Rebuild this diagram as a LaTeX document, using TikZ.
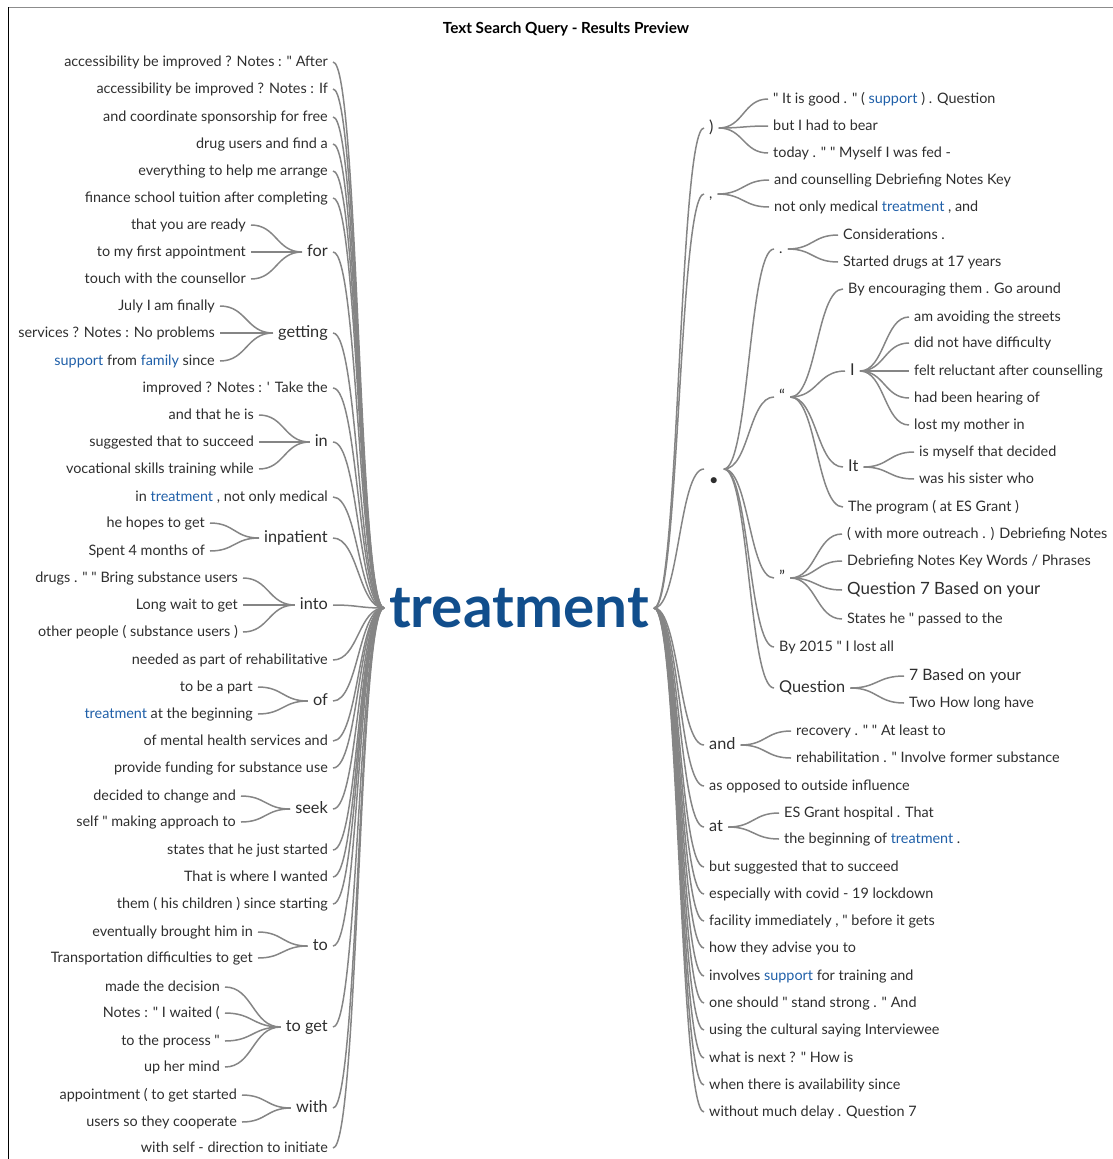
\documentclass[tikz,border=0pt]{standalone}
\usepackage{fontspec}
\setmainfont{Lato}[Ligatures=TeXOff]
\usepackage{xcolor}
\usepackage{tikz}
\usetikzlibrary{calc}
\definecolor{wtext}{HTML}{2E2E2E}
\definecolor{wblue}{HTML}{1F5FA8}
\definecolor{wroot}{HTML}{114E8C}
\definecolor{wline}{HTML}{858585}
\newcommand{\kw}[1]{\textcolor{wblue}{#1}}
\newcommand{\wlink}[2]{\draw[link] let \p1=(#1), \p2=(#2) in (\p1) .. controls ({(\x1+\x2)/2},\y1) and ({(\x1+\x2)/2},\y2) .. (\p2);}
\tikzset{
  leaf/.style={font=\fontsize{14.4}{17}\selectfont, text=wtext, inner xsep=5pt, inner ysep=0pt, text height=11.2pt, text depth=2.6pt},
  hub/.style={font=\fontsize{16.3}{19}\selectfont, text=wtext, inner xsep=5pt, inner ysep=0pt, text height=12.4pt, text depth=3pt},
  mid/.style={hub, font=\fontsize{15.7}{18}\selectfont},
  big/.style={hub, font=\fontsize{16.9}{20}\selectfont},
  link/.style={draw=wline, line width=1.5pt},
}
\begin{document}
\begin{tikzpicture}[x=1pt, y=-1pt]
\useasboundingbox (0,0) rectangle (1113,1159);
\draw[black!45, line width=0.8pt] (8,7) -- (1113,7);
\draw[black, line width=1pt] (8,7) -- (8,1159);
\node[font=\fontsize{15.3}{18}\selectfont\bfseries, text=black] (title) at (566,29) {Text Search Query - Results Preview};

% root word
\node[font=\fontsize{58.5}{62}\selectfont\bfseries, text=wroot, inner xsep=5pt, inner ysep=0pt] (root) at (519,608) {treatment};

% left side, right aligned
\node[leaf, anchor=east] (la) at (333,62) {accessibility be improved ? Notes : " After};
\node[leaf, anchor=east] (lb) at (333,89) {accessibility be improved ? Notes : If};
\node[leaf, anchor=east] (lc) at (333,117) {and coordinate sponsorship for free};
\node[leaf, anchor=east] (ld) at (333,144) {drug users and find a};
\node[leaf, anchor=east] (le) at (333,171) {everything to help me arrange};
\node[leaf, anchor=east] (lf) at (333,198) {finance school tuition after completing};
\node[hub, anchor=east] (hfor) at (333,252) {for};
\node[leaf, anchor=east] (for1) at (251,225) {that you are ready};
\node[leaf, anchor=east] (for2) at (251,252) {to my first appointment};
\node[leaf, anchor=east] (for3) at (251,279) {touch with the counsellor};
\node[hub, anchor=east] (hgetting) at (333,333) {getting};
\node[leaf, anchor=east] (get1) at (220,306) {July I am finally};
\node[leaf, anchor=east] (get2) at (220,333) {services ? Notes : No problems};
\node[leaf, anchor=east] (get3) at (220,361) {\kw{support} from \kw{family} since};
\node[leaf, anchor=east] (lg) at (333,388) {improved ? Notes : ' Take the};
\node[hub, anchor=east] (hin) at (333,442) {in};
\node[leaf, anchor=east] (in1) at (259,415) {and that he is};
\node[leaf, anchor=east] (in2) at (259,442) {suggested that to succeed};
\node[leaf, anchor=east] (in3) at (259,469) {vocational skills training while};
\node[leaf, anchor=east] (lh) at (333,497) {in \kw{treatment} , not only medical};
\node[hub, anchor=east] (hinpat) at (333,538) {inpatient};
\node[leaf, anchor=east] (inp1) at (210,523) {he hopes to get};
\node[leaf, anchor=east] (inp2) at (210,551) {Spent 4 months of};
\node[hub, anchor=east] (hinto) at (333,605) {into};
\node[leaf, anchor=east] (into1) at (243,578) {drugs . " " Bring substance users};
\node[leaf, anchor=east] (into2) at (243,605) {Long wait to get};
\node[leaf, anchor=east] (into3) at (243,632) {other people ( substance users )};
\node[leaf, anchor=east] (li) at (333,660) {needed as part of rehabilitative};
\node[hub, anchor=east] (hof) at (333,701) {of};
\node[leaf, anchor=east] (of1) at (258,687) {to be a part};
\node[leaf, anchor=east] (of2) at (258,714) {\kw{treatment} at the beginning};
\node[leaf, anchor=east] (lj) at (333,741) {of mental health services and};
\node[leaf, anchor=east] (lk) at (333,768) {provide funding for substance use};
\node[hub, anchor=east] (hseek) at (333,809) {seek};
\node[leaf, anchor=east] (seek1) at (241,796) {decided to change and};
\node[leaf, anchor=east] (seek2) at (241,822) {self " making approach to};
\node[leaf, anchor=east] (ll) at (333,850) {states that he just started};
\node[leaf, anchor=east] (lm) at (333,877) {That is where I wanted};
\node[leaf, anchor=east] (ln) at (333,904) {them ( his children ) since starting};
\node[hub, anchor=east] (hto) at (333,946) {to};
\node[leaf, anchor=east] (to1) at (258,932) {eventually brought him in};
\node[leaf, anchor=east] (to2) at (258,958) {Transportation difficulties to get};
\node[hub, anchor=east] (htoget) at (333,1027) {to get};
\node[leaf, anchor=east] (tg1) at (225,987) {made the decision};
\node[leaf, anchor=east] (tg2) at (225,1013) {Notes : " I waited (};
\node[leaf, anchor=east] (tg3) at (225,1041) {to the process "};
\node[leaf, anchor=east] (tg4) at (225,1067) {up her mind};
\node[hub, anchor=east] (hwith) at (333,1108) {with};
\node[leaf, anchor=east] (with1) at (242,1095) {appointment ( to get started};
\node[leaf, anchor=east] (with2) at (242,1122) {users so they cooperate};
\node[leaf, anchor=east] (lo) at (333,1148) {with self - direction to initiate};

% right side, left aligned
\node[hub, anchor=west] (rparen) at (704,128) {)};
\node[leaf, anchor=west] (rp1) at (768,99) {" It is good . " ( \kw{support} ) . Question};
\node[leaf, anchor=west] (rp2) at (768,126) {but I had to bear};
\node[leaf, anchor=west] (rp3) at (768,153) {today . " " Myself I was fed -};
\node[leaf, anchor=west] (rcomma) at (704,194) {,};
\node[leaf, anchor=west] (rc1) at (769,180) {and counselling Debriefing Notes Key};
\node[leaf, anchor=west] (rc2) at (769,207) {not only medical \kw{treatment} , and};
\node[hub, anchor=west, text height=33pt, text depth=0pt] (rdot) at (704,469) {•};
\node[leaf, anchor=west] (rper) at (774,249) {.};
\node[leaf, anchor=west] (rper1) at (838,235) {Considerations .};
\node[leaf, anchor=west] (rper2) at (838,262) {Started drugs at 17 years};
\node[hub, anchor=west] (rlq) at (774,397) {“};
\node[leaf, anchor=west] (rlq1) at (843,289) {By encouraging them . Go around};
\node[hub, anchor=west] (rI) at (845,371) {I};
\node[leaf, anchor=west] (rI1) at (909,317) {am avoiding the streets};
\node[leaf, anchor=west] (rI2) at (909,343) {did not have difficulty};
\node[leaf, anchor=west] (rI3) at (909,371) {felt reluctant after counselling};
\node[leaf, anchor=west] (rI4) at (909,398) {had been hearing of};
\node[leaf, anchor=west] (rI5) at (909,425) {lost my mother in};
\node[hub, anchor=west] (rIt) at (843,467) {It};
\node[leaf, anchor=west] (rIt1) at (914,452) {is myself that decided};
\node[leaf, anchor=west] (rIt2) at (914,479) {was his sister who};
\node[leaf, anchor=west] (rlq2) at (843,507) {The program ( at ES Grant )};
\node[hub, anchor=west] (rrq) at (774,578) {”};
\node[leaf, anchor=west] (rrq1) at (842,534) {( with more outreach . ) Debriefing Notes};
\node[leaf, anchor=west] (rrq2) at (842,561) {Debriefing Notes Key Words / Phrases};
\node[big, anchor=west] (rrq3) at (842,590) {Question 7 Based on your};
\node[leaf, anchor=west] (rrq4) at (842,619) {States he " passed to the};
\node[leaf, anchor=west] (rby) at (774,647) {By 2015 " I lost all};
\node[hub, anchor=west] (rq) at (774,688) {Question};
\node[mid, anchor=west] (rq1) at (904,676) {7 Based on your};
\node[leaf, anchor=west] (rq2) at (904,703) {Two How long have};
\node[hub, anchor=west] (rand) at (704,745) {and};
\node[leaf, anchor=west] (rand1) at (791,731) {recovery . " " At least to};
\node[leaf, anchor=west] (rand2) at (791,758) {rehabilitation . " Involve former substance};
\node[leaf, anchor=west] (ra) at (704,786) {as opposed to outside influence};
\node[hub, anchor=west] (rat) at (704,827) {at};
\node[leaf, anchor=west] (rat1) at (779,813) {ES Grant hospital . That};
\node[leaf, anchor=west] (rat2) at (779,839) {the beginning of \kw{treatment} .};
\node[leaf, anchor=west] (rb) at (704,867) {but suggested that to succeed};
\node[leaf, anchor=west] (rc) at (704,894) {especially with covid - 19 lockdown};
\node[leaf, anchor=west] (rd) at (704,921) {facility immediately , " before it gets};
\node[leaf, anchor=west] (re) at (704,948) {how they advise you to};
\node[leaf, anchor=west] (rf) at (704,976) {involves \kw{support} for training and};
\node[leaf, anchor=west] (rg) at (704,1003) {one should " stand strong . " And};
\node[leaf, anchor=west] (rh) at (704,1030) {using the cultural saying Interviewee};
\node[leaf, anchor=west] (ri) at (704,1058) {what is next ? " How is};
\node[leaf, anchor=west] (rj) at (704,1085) {when there is availability since};
\node[leaf, anchor=west] (rk) at (704,1112) {without much delay . Question 7};

% left branches into the root
\foreach \w in {la,lb,lc,ld,le,lf,hfor,hgetting,lg,hin,lh,hinpat,hinto,li,hof,lj,lk,hseek,ll,lm,ln,hto,htoget,hwith,lo}
  {\wlink{\w.east}{root.west}}
\foreach \w in {for1,for2,for3} {\wlink{\w.east}{hfor.west}}
\foreach \w in {get1,get2,get3} {\wlink{\w.east}{hgetting.west}}
\foreach \w in {in1,in2,in3} {\wlink{\w.east}{hin.west}}
\foreach \w in {inp1,inp2} {\wlink{\w.east}{hinpat.west}}
\foreach \w in {into1,into2,into3} {\wlink{\w.east}{hinto.west}}
\foreach \w in {of1,of2} {\wlink{\w.east}{hof.west}}
\foreach \w in {seek1,seek2} {\wlink{\w.east}{hseek.west}}
\foreach \w in {to1,to2} {\wlink{\w.east}{hto.west}}
\foreach \w in {tg1,tg2,tg3,tg4} {\wlink{\w.east}{htoget.west}}
\foreach \w in {with1,with2} {\wlink{\w.east}{hwith.west}}

% right branches out of the root
\foreach \w in {rparen,rcomma,rdot,rand,ra,rat,rb,rc,rd,re,rf,rg,rh,ri,rj,rk}
  {\wlink{root.east}{\w.west}}
\foreach \w in {rp1,rp2,rp3} {\wlink{rparen.east}{\w.west}}
\foreach \w in {rc1,rc2} {\wlink{rcomma.east}{\w.west}}
\foreach \w in {rper,rlq,rrq,rby,rq} {\wlink{rdot.east}{\w.west}}
\foreach \w in {rper1,rper2} {\wlink{rper.east}{\w.west}}
\foreach \w in {rlq1,rI,rIt,rlq2} {\wlink{rlq.east}{\w.west}}
\foreach \w in {rI1,rI2,rI3,rI4,rI5} {\wlink{rI.east}{\w.west}}
\foreach \w in {rIt1,rIt2} {\wlink{rIt.east}{\w.west}}
\foreach \w in {rrq1,rrq2,rrq3,rrq4} {\wlink{rrq.east}{\w.west}}
\foreach \w in {rq1,rq2} {\wlink{rq.east}{\w.west}}
\foreach \w in {rand1,rand2} {\wlink{rand.east}{\w.west}}
\foreach \w in {rat1,rat2} {\wlink{rat.east}{\w.west}}
\end{tikzpicture}
\end{document}
